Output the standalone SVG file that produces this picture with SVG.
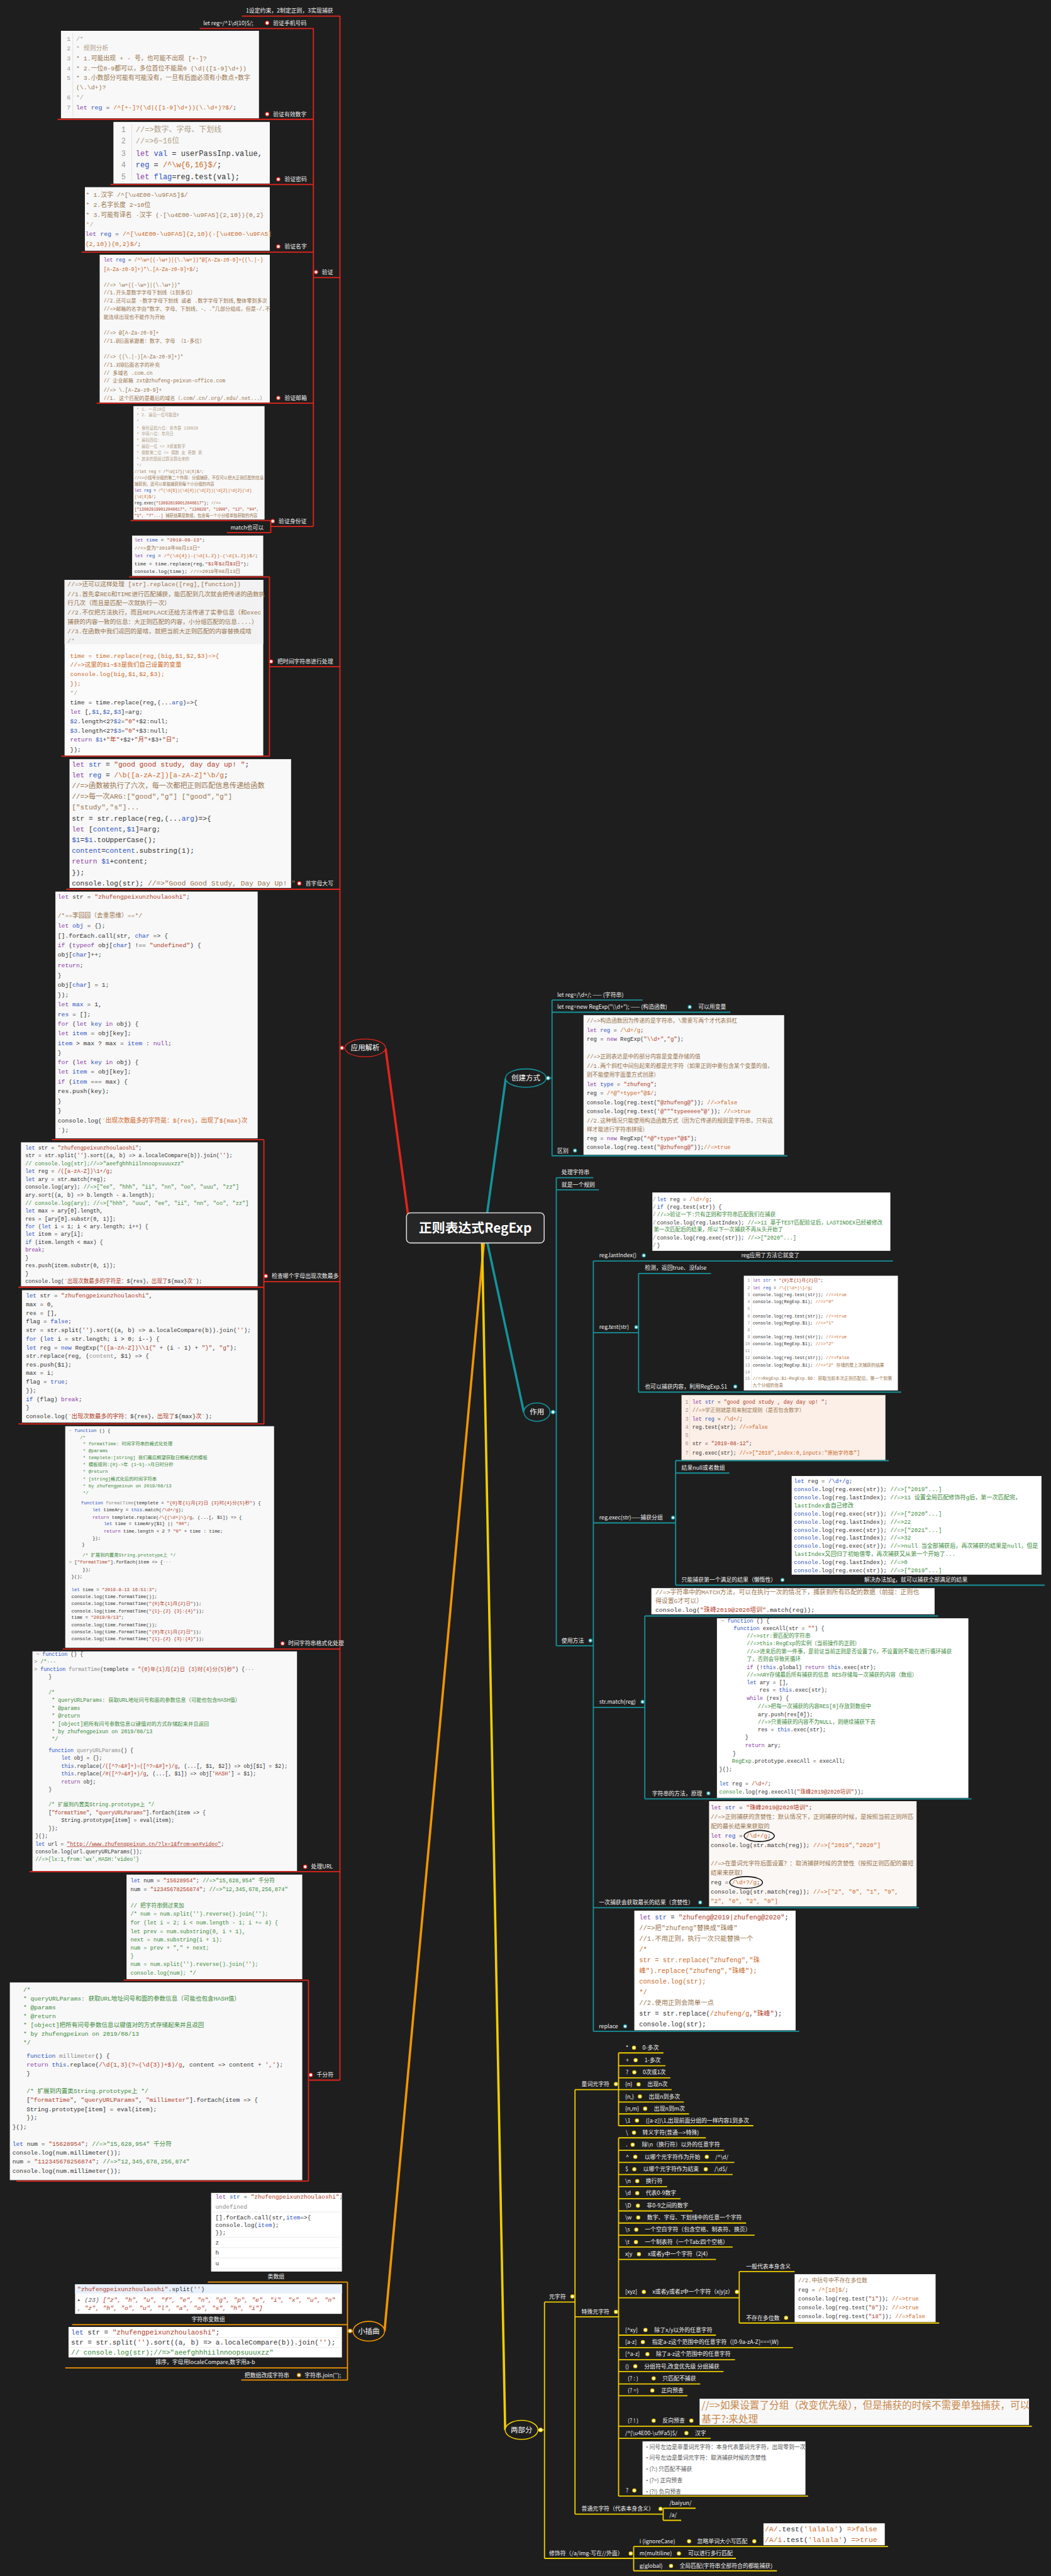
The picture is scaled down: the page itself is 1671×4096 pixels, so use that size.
<svg xmlns="http://www.w3.org/2000/svg" width="1671" height="4096" viewBox="0 0 1671 4096" xml:space="preserve">
<style>
.l{font-family:"Noto Sans CJK SC","Liberation Sans",sans-serif;font-size:17px;fill:#f0f0f0}
.e{font-family:"Noto Sans CJK SC","Liberation Sans",sans-serif;font-size:22px;fill:#fff;text-anchor:middle}
.c{font-family:"Liberation Mono","Noto Sans CJK SC",monospace;fill:#333}
.n{fill:#999}
.cm{fill:#9a7650}
.cl{fill:#b3a089}
.cg{fill:#3d8b3d}
.k{fill:#2f56c4}
.kp{fill:#8a3fa6}
.s{fill:#b0402a}
.so{fill:#cc6a2a}
.f{fill:#8c8c8c}
.box{fill:#f8f8f8}
.lr,.lt,.lo,.ly{fill:none;stroke-width:3.5}
.lr{stroke:#e3241b}.lt{stroke:#14939c}.lo{stroke:#f29600}.ly{stroke:#f0cd00}
.br,.bt,.bo,.by{stroke-width:2.5}
.br{fill:#fff;stroke:#e3241b}.bt{fill:#fff;stroke:#14939c}.bo{fill:#fff;stroke:#f29600}.by{fill:#fffbe0;stroke:#f0cd00}
.sep{stroke:#e6e6e6;stroke-width:1.5}
</style>
<rect width="1671" height="4096" fill="#1e1e1e"/>
<g transform="scale(0.5212)">

<g id="connectors">
<path d="M1250,3745 L1176,3198" stroke="#e3241b" stroke-width="7" fill="none"/>
<path d="M1480,3745 L1543,3289" stroke="#14939c" stroke-width="7" fill="none"/>
<path d="M1480,3760 L1598,4308" stroke="#14939c" stroke-width="7" fill="none"/>
<path d="M1479,3760 L1173,7112" stroke="#f29600" stroke-width="7" fill="none"/>
<path d="M1470,3760 L1541,7413" stroke="#f0cd00" stroke-width="7" fill="none"/>
<path class="lr" d="M1037,49 V6346 M738,49 H1037 M956,847 H1037 M956,87 V1606 M609,87 H956 M176,364 H956 M337,563 H956 M249,769 H956 M295,1230 H956 M826,1606 H956 M826,1588 V1625 M398,1588 H826 M692,1625 H826 M822,2034 H1037 M822,1760 V2307 M394,1760 H822 M187,2307 H822 M202,2713 H1037 M805,3910 H1037 M805,3477 V4344 M159,3477 H805 M56,3927 H805 M56,4344 H805 M191,5031 H1037 M90,5710 H1037 M941,6346 H1037 M941,6041 V6654 M377,6041 H941 M50,6654 H941 M1037,3197 H1052"/>
<path class="lo" d="M1060,6962 V7261 M634,6962 H1060 M220,7092 H1060 M199,7224 H1060 M736,7261 H1060 M1060,7112 H1077"/>
<path class="lt" d="M1684,3051 V3526 M1666,3289 H1684 M1684,3051 H1960 M1684,3088 H2228 M1684,3526 H2402 M1697,3593 V5021 M1677,4308 H1697 M1697,3593 H1810 M1697,3630 H1827 M1697,5021 H1810 M1810,3847 V6197 M1810,3847 H2724 M1810,4066 H1948 M1948,3885 V4247 M1948,3885 H2169 M1948,4247 H2749 M1810,4646 H2061 M2061,4456 V4836 M2061,4456 H2711 M2061,4494 H2225 M2061,4836 H3187 M1810,5209 H1967 M1967,4930 V5488 M1967,4930 H2862 M1967,5488 H2964 M1810,5820 H2803 M1810,6197 H2438"/>
<path class="ly" d="M1661,7023 V7805 M1649,7413 H1661 M1661,7023 H1754 M1661,7805 H1933 M1754,6375 V7670 M1754,6375 H1887 M1754,7068 H1887 M1754,7670 H2023 M1887,6263 V6485 M1887,6522 V7615 M1887,6263 H2024 M1887,6302 H2030 M1887,6339 H2045 M1887,6375 H2049 M1887,6413 H2086 M1887,6449 H2102 M1887,6485 H2298 M1887,6522 H2153 M1887,6560 H2209 M1887,6597 H2240 M1887,6634 H2235 M1887,6671 H2035 M1887,6708 H2076 M1887,6745 H2112 M1887,6782 H2276 M1887,6819 H2302 M1887,6855 H2235 M1887,6893 H2184 M1887,7010 H2255 M2255,6930 V7087 M2255,6930 H2424 M2255,7087 H2865 M1887,7124 H2184 M1887,7162 H2419 M1887,7199 H2242 M1887,7235 H2207 M1887,7273 H2136 M1887,7309 H2097 M1887,7402 H3148 M1887,7439 H2168 M1887,7615 H2465 M2023,7652 V7689 M2023,7652 H2122 M2023,7689 H2078 M1933,7769 V7843 M1933,7769 H2709 M1933,7805 H2245 M1933,7843 H2370"/>
</g>

<g id="center">
<rect x="1240" y="3700" width="420" height="92" rx="12" fill="#262626" stroke="#d8d8d8" stroke-width="3"/>
<text x="1450" y="3760" font-family="Noto Sans CJK SC, Liberation Sans, sans-serif" font-size="40" font-weight="bold" fill="#fff" text-anchor="middle">正则表达式RegExp</text>
</g>

<g id="yingyong">
<ellipse cx="1114" cy="3197" rx="62" ry="27" fill="#1e1e1e" stroke="#e3241b" stroke-width="2.5"/>
<text class="e" x="1114" y="3205">应用解析</text>
<circle class="br" cx="1043" cy="3197" r="5.5"/>
</g>
<g id="red-labels">
<text class="l" x="750" y="39">1设定约束，2制定正则，3实现捕获</text>
<text class="l" x="620" y="76">let reg=/^1\d{10}$/;</text>
<circle class="br" cx="815" cy="70" r="5.5"/><text class="l" x="833" y="76">验证手机号码</text>
<circle class="br" cx="815" cy="348" r="5.5"/><text class="l" x="833" y="354">验证有效数字</text>
<circle class="br" cx="849" cy="547" r="5.5"/><text class="l" x="868" y="553">验证密码</text>
<circle class="br" cx="849" cy="752" r="5.5"/><text class="l" x="868" y="758">验证名字</text>
<circle class="br" cx="964" cy="830" r="5.5"/><text class="l" x="982" y="836">验证</text>
<circle class="br" cx="849" cy="1214" r="5.5"/><text class="l" x="868" y="1220">验证邮箱</text>
<circle class="br" cx="832" cy="1590" r="5.5"/><text class="l" x="850" y="1596">验证身份证</text>
<text class="l" x="703" y="1615">match也可以</text>
<circle class="br" cx="827" cy="2018" r="5.5"/><text class="l" x="846" y="2024">把时间字符串进行处理</text>
<circle class="br" cx="913" cy="2695" r="5.5"/><text class="l" x="932" y="2701">首字母大写</text>
<circle class="br" cx="811" cy="3893" r="5.5"/><text class="l" x="829" y="3899">检查哪个字母出现次数最多</text>
<circle class="br" cx="862" cy="5014" r="5.5"/><text class="l" x="879" y="5020">时间字符串格式化处理</text>
<circle class="br" cx="931" cy="5695" r="5.5"/><text class="l" x="949" y="5701">处理URL</text>
<circle class="br" cx="948" cy="6330" r="5.5"/><text class="l" x="966" y="6336">千分符</text>
</g>

<g id="code-number" font-size="19">
<rect class="box" x="186" y="94" width="604" height="267"/>
<line x1="222" y1="100" x2="222" y2="355" stroke="#ddd" stroke-width="1.5"/>
<text class="c n" x="204" y="124">1</text><text class="c n" x="204" y="154">2</text><text class="c n" x="204" y="184">3</text><text class="c n" x="204" y="214">4</text><text class="c n" x="204" y="243">5</text><text class="c n" x="204" y="303">6</text><text class="c n" x="204" y="333">7</text>
<text class="c cl" x="232" y="124">/*</text>
<text class="c cl" x="232" y="154"> * 规则分析</text>
<text class="c cm" x="232" y="184"> * 1.可能出现 + - 号，也可能不出现  [+-]?</text>
<text class="c cm" x="232" y="214"> * 2.一位0-9都可以，多位首位不能是0 (\d|([1-9]\d+))</text>
<text class="c cm" x="232" y="243"> * 3.小数部分可能有可能没有，一旦有后面必须有小数点+数字</text>
<text class="c cm" x="232" y="273">(\.\d+)?</text>
<text class="c cl" x="232" y="303"> */</text>
<text class="c" x="232" y="333"><tspan class="kp">let</tspan> <tspan class="k">reg</tspan> = <tspan class="so">/^[+-]?(\d|([1-9]\d+))(\.\d+)?$/</tspan>;</text>
</g>

<g id="code-password" font-size="23">
<rect class="box" x="346" y="372" width="477" height="188"/>
<line x1="402" y1="378" x2="402" y2="555" stroke="#ddd" stroke-width="1.5"/>
<text class="c n" x="370" y="402">1</text><text class="c n" x="370" y="438">2</text><text class="c n" x="370" y="475">3</text><text class="c n" x="370" y="511">4</text><text class="c n" x="370" y="547">5</text>
<text class="c cl" x="414" y="402">//=>数字、字母、下划线</text>
<text class="c cl" x="414" y="438">//=>6~16位</text>
<text class="c" x="414" y="475"><tspan class="kp">let</tspan> <tspan class="k">val</tspan> = userPassInp.value,</text>
<text class="c" x="414" y="511">    <tspan class="k">reg</tspan> = <tspan class="so">/^\w{6,16}$/</tspan>;</text>
<text class="c" x="414" y="547"><tspan class="kp">let</tspan> <tspan class="k">flag</tspan>=reg.test(val);</text>
</g>

<g id="code-name" font-size="19">
<rect class="box" x="259" y="571" width="564" height="194"/>
<text class="c cm" x="262" y="601"> * 1.汉字  /^[\u4E00-\u9FA5]$/</text>
<text class="c cm" x="262" y="632"> * 2.名字长度 2~10位</text>
<text class="c cm" x="262" y="661"> * 3.可能有译名 ·汉字  (·[\u4E00-\u9FA5]{2,10}){0,2}</text>
<text class="c cl" x="262" y="690"> */</text>
<text class="c" x="260" y="720"><tspan class="kp">let</tspan> <tspan class="k">reg</tspan> = <tspan class="so">/^[\u4E00-\u9FA5]{2,10}(·[\u4E00-\u9FA5]</tspan></text>
<text class="c so" x="260" y="750">{2,10}){0,2}$/<tspan fill="#333">;</tspan></text>
</g>

<g id="code-email" font-size="15.6">
<rect class="box" x="304" y="777" width="519" height="451"/>
<text class="c" x="316" y="799"><tspan class="kp">let</tspan> <tspan class="k">reg</tspan> = <tspan class="so">/^\w+((-\w+)|(\.\w+))*@[A-Za-z0-9]+((\.|-)</tspan></text>
<text class="c so" x="316" y="826">[A-Za-z0-9]+)*\.[A-Za-z0-9]+$/<tspan fill="#333">;</tspan></text>
<text class="c cm" x="316" y="874">//=> \w+((-\w+)|(\.\w+))*</text>
<text class="c cm" x="316" y="898">//1.开头是数字字母下划线（1到多位）</text>
<text class="c cm" x="316" y="923">//2.还可以是 -数字字母下划线 或者 .数字字母下划线,整体零到多次</text>
<text class="c cm" x="316" y="947">//=>邮箱的名字由“数字、字母、下划线、-、.”几部分组成，但是-/.不</text>
<text class="c cm" x="316" y="972">能连续出现也不能作为开始</text>
<text class="c cm" x="316" y="1021">//=> @[A-Za-z0-9]+</text>
<text class="c cm" x="316" y="1045">//1.@后面紧跟着：数字、字母 （1-多位）</text>
<text class="c cm" x="316" y="1094">//=> ((\.|-)[A-Za-z0-9]+)*</text>
<text class="c cm" x="316" y="1118">//1.对@后面名字的补充</text>
<text class="c cm" x="316" y="1143">// 多域名      .com.cn</text>
<text class="c cm" x="316" y="1167">// 企业邮箱    zxt@zhufeng-peixun-office.com</text>
<text class="c cm" x="316" y="1196">//=> \.[A-Za-z0-9]+</text>
<text class="c cm" x="316" y="1220">//1. 这个匹配的是最后的域名（.com/.cn/.org/.edu/.net...）</text>
</g>

<g id="code-idcard" font-size="12.2">
<rect class="box" x="407" y="1239" width="400" height="346"/>
<text class="c cl" x="417" y="1252">* 1.  一共18位</text>
<text class="c cl" x="417" y="1271">* 2.  最后一位可能是X</text>
<text class="c cl" x="417" y="1290">*</text>
<text class="c cl" x="417" y="1310">* 身份证前六位：省市县   130828</text>
<text class="c cl" x="417" y="1328">* 中间八位：年月日</text>
<text class="c cl" x="417" y="1347">* 最后四位：</text>
<text class="c cl" x="417" y="1366">*    最后一位 => X或者数字</text>
<text class="c cl" x="417" y="1385">*    倒数第二位 => 偶数 女   奇数 男</text>
<text class="c cl" x="417" y="1405">*    其余的是经过算法算出来的</text>
<text class="c cl" x="417" y="1424">*/</text>
<text class="c cm" x="410" y="1443">//let reg = /^\d{17}(\d|X)$/;</text>
<text class="c cm" x="410" y="1462">//=>小括号分组的第二个作用：分组捕获，不仅可以把大正则匹配的信息</text>
<text class="c cm" x="410" y="1481">捕获到，还可以单独捕获到每个小分组的内容</text>
<text class="c" x="410" y="1500"><tspan class="kp">let</tspan> <tspan class="k">reg</tspan> = <tspan class="so">/^(\d{6})(\d{4})(\d{2})(\d{2})\d{2}(\d)</tspan></text>
<text class="c so" x="410" y="1519">(\d|X)$/<tspan fill="#333">;</tspan></text>
<text class="c" x="410" y="1539">reg.exec(<tspan class="s">"130828199012040617"</tspan>); <tspan class="cm">//=></tspan></text>
<text class="c s" x="410" y="1558">["130828199012040617", "130828", "1990", "12", "04",</text>
<text class="c s" x="410" y="1577">"1", "7"...] <tspan class="cm">捕获结果是数组，包含每一个小分组单独获取的内容</tspan></text>
</g>

<g id="code-time" font-size="15">
<rect class="box" x="403" y="1634" width="400" height="123"/>
<text class="c" x="410" y="1652"><tspan class="kp">let</tspan> <tspan class="k">time</tspan> = <tspan class="s">"2019-08-13"</tspan>;</text>
<text class="c cm" x="410" y="1676">//=>变为"2019年08月13日"</text>
<text class="c" x="410" y="1700"><tspan class="kp">let</tspan> <tspan class="k">reg</tspan> = <tspan class="so">/^(\d{4})-(\d{1,2})-(\d{1,2})$/</tspan>;</text>
<text class="c" x="410" y="1724">time = time.replace(reg,<tspan class="s">"$1年$2月$3日"</tspan>);</text>
<text class="c" x="410" y="1748">console.log(time); <tspan class="cm">//=>2019年08月13日</tspan></text>
</g>

<g id="code-replace-fn" font-size="18.5">
<rect x="197" y="1769" width="606" height="536" fill="#fbfbfb"/>
<rect x="197" y="1769" width="606" height="196" fill="#f2f2f2"/>
<text class="c cm" x="206" y="1789">//=>还可以这样处理 [str].replace([reg],[function])</text>
<text class="c cm" x="206" y="1818">//1.首先拿REG和TIME进行匹配捕获，能匹配到几次就会把传递的函数执</text>
<text class="c cm" x="206" y="1846">行几次（而且是匹配一次就执行一次）</text>
<text class="c cm" x="206" y="1874">//2.不仅把方法执行，而且REPLACE还给方法传递了实参信息（和exec</text>
<text class="c cm" x="206" y="1903">捕获的内容一致的信息：大正则匹配的内容，小分组匹配的信息....）</text>
<text class="c cm" x="206" y="1932">//3.在函数中我们返回的是啥，就把当前大正则匹配的内容替换成啥</text>
<text class="c cl" x="206" y="1960">/*</text>
<text class="c so" x="214" y="2006">time = time.replace(reg,(big,$1,$2,$3)=>{</text>
<text class="c so" x="214" y="2034">    //=>这里的$1~$3是我们自己设置的变量</text>
<text class="c so" x="214" y="2063">    console.log(big,$1,$2,$3);</text>
<text class="c so" x="214" y="2092">});</text>
<text class="c cl" x="214" y="2120">*/</text>
<text class="c" x="214" y="2149">time = time.replace(reg,(...<tspan class="k">arg</tspan>)=>{</text>
<text class="c" x="214" y="2177">    <tspan class="kp">let</tspan> [,<tspan class="k">$1</tspan>,<tspan class="k">$2</tspan>,<tspan class="k">$3</tspan>]=arg;</text>
<text class="c" x="214" y="2206">    <tspan class="k">$2</tspan>.length&lt;2?<tspan class="k">$2</tspan>=<tspan class="s">"0"</tspan>+$2:null;</text>
<text class="c" x="214" y="2235">    <tspan class="k">$3</tspan>.length&lt;2?<tspan class="k">$3</tspan>=<tspan class="s">"0"</tspan>+$3:null;</text>
<text class="c" x="214" y="2263">    <tspan class="kp">return</tspan> <tspan class="k">$1</tspan>+<tspan class="s">"年"</tspan>+$2+<tspan class="s">"月"</tspan>+$3+<tspan class="s">"日"</tspan>;</text>
<text class="c" x="214" y="2292">});</text>
</g>

<g id="code-capitalize" font-size="21.5">
<rect class="box" x="212" y="2316" width="676" height="393"/>
<text class="c" x="219" y="2338"><tspan class="kp">let</tspan> <tspan class="k">str</tspan> = <tspan class="s">"good good study, day day up! "</tspan>;</text>
<text class="c" x="219" y="2371"><tspan class="kp">let</tspan> <tspan class="k">reg</tspan> = <tspan class="so">/\b([a-zA-Z])[a-zA-Z]*\b/g</tspan>;</text>
<text class="c cm" x="219" y="2404">//=>函数被执行了六次，每一次都把正则匹配信息传递给函数</text>
<text class="c cm" x="219" y="2437">//=>每一次ARG:["good","g"] ["good","g"]</text>
<text class="c cm" x="219" y="2470">["study","s"]...</text>
<text class="c" x="219" y="2503">str = str.replace(reg,(...<tspan class="k">arg</tspan>)=>{</text>
<text class="c" x="219" y="2536">    <tspan class="kp">let</tspan> [<tspan class="k">content</tspan>,<tspan class="k">$1</tspan>]=arg;</text>
<text class="c" x="219" y="2569">    <tspan class="k">$1</tspan>=<tspan class="k">$1</tspan>.toUpperCase();</text>
<text class="c" x="219" y="2602">    <tspan class="k">content</tspan>=<tspan class="k">content</tspan>.substring(1);</text>
<text class="c" x="219" y="2635">    <tspan class="kp">return</tspan> <tspan class="k">$1</tspan>+content;</text>
<text class="c" x="219" y="2668">});</text>
<text class="c" x="219" y="2701">console.log(str); <tspan class="cm">//=>"Good Good Study, Day Day Up! "</tspan></text>
</g>

<g id="code-maxchar-1" font-size="18.7">
<rect class="box" x="169" y="2720" width="617" height="753"/>
<text class="c" x="176" y="2742"><tspan class="kp">let</tspan> str = <tspan class="s">"zhufengpeixunzhoulaoshi"</tspan>;</text>
<text class="c cm" x="176" y="2800">/*==李园园（去重思维）==*/</text>
<text class="c" x="176" y="2830"><tspan class="kp">let</tspan> <tspan class="k">obj</tspan> = {};</text>
<text class="c" x="176" y="2860">[].forEach.call(str, <tspan class="k">char</tspan> => {</text>
<text class="c" x="176" y="2889">    <tspan class="kp">if</tspan> (<tspan class="kp">typeof</tspan> obj[<tspan class="k">char</tspan>] !== <tspan class="s">"undefined"</tspan>) {</text>
<text class="c" x="176" y="2919">        obj[<tspan class="k">char</tspan>]++;</text>
<text class="c" x="176" y="2951">        <tspan class="kp">return</tspan>;</text>
<text class="c" x="176" y="2981">    }</text>
<text class="c" x="176" y="3011">    obj[<tspan class="k">char</tspan>] = 1;</text>
<text class="c" x="176" y="3041">});</text>
<text class="c" x="176" y="3070"><tspan class="kp">let</tspan> <tspan class="k">max</tspan> = 1,</text>
<text class="c" x="176" y="3100">    <tspan class="k">res</tspan> = [];</text>
<text class="c" x="176" y="3130"><tspan class="kp">for</tspan> (<tspan class="kp">let</tspan> <tspan class="k">key</tspan> <tspan class="kp">in</tspan> obj) {</text>
<text class="c" x="176" y="3159">    <tspan class="kp">let</tspan> <tspan class="k">item</tspan> = obj[key];</text>
<text class="c" x="176" y="3188">    <tspan class="k">item</tspan> > max ? max = <tspan class="k">item</tspan> : <tspan class="kp">null</tspan>;</text>
<text class="c" x="176" y="3217">}</text>
<text class="c" x="176" y="3247"><tspan class="kp">for</tspan> (<tspan class="kp">let</tspan> <tspan class="k">key</tspan> <tspan class="kp">in</tspan> obj) {</text>
<text class="c" x="176" y="3276">    <tspan class="kp">let</tspan> <tspan class="k">item</tspan> = obj[key];</text>
<text class="c" x="176" y="3306">    <tspan class="kp">if</tspan> (<tspan class="k">item</tspan> === max) {</text>
<text class="c" x="176" y="3335">        res.push(key);</text>
<text class="c" x="176" y="3365">    }</text>
<text class="c" x="176" y="3395">}</text>
<text class="c" x="176" y="3424">console.log(`<tspan class="so">出现次数最多的字符是：${res}，出现了${max}次</tspan></text>
<text class="c" x="176" y="3454">`);</text>
</g>

<g id="code-maxchar-2" font-size="16.5">
<rect class="box" x="64" y="3485" width="722" height="439"/>
<text class="c" x="77" y="3507"><tspan class="k">let</tspan> str = <tspan class="s">"zhufengpeixunzhoulaoshi"</tspan>;</text>
<text class="c" x="77" y="3531">str = str.split(<tspan class="s">''</tspan>).sort((a, b) => a.localeCompare(b)).join(<tspan class="s">''</tspan>);</text>
<text class="c cg" x="77" y="3555">// console.log(str);//=>"aeefghhhiilnnoopsuuuxzz"</text>
<text class="c" x="77" y="3579"><tspan class="k">let</tspan> reg = <tspan class="s">/([a-zA-Z])\1+/g</tspan>;</text>
<text class="c" x="77" y="3603"><tspan class="k">let</tspan> ary = str.match(reg);</text>
<text class="c" x="77" y="3627">console.log(ary); <tspan class="cg">//=>["ee", "hhh", "ii", "nn", "oo", "uuu", "zz"]</tspan></text>
<text class="c" x="77" y="3651">ary.sort((a, b) => b.length - a.length);</text>
<text class="c cg" x="77" y="3676">// console.log(ary); //=>["hhh", "uuu", "ee", "ii", "nn", "oo", "zz"]</text>
<text class="c" x="77" y="3700"><tspan class="k">let</tspan> max = ary[0].length,</text>
<text class="c" x="77" y="3724">    res = [ary[0].substr(0, 1)];</text>
<text class="c" x="77" y="3748"><tspan class="k">for</tspan> (<tspan class="k">let</tspan> i = 1; i &lt; ary.length; i++) {</text>
<text class="c" x="77" y="3771">    <tspan class="k">let</tspan> item = ary[i];</text>
<text class="c" x="77" y="3795">    <tspan class="k">if</tspan> (item.length &lt; max) {</text>
<text class="c" x="77" y="3819">        <tspan class="kp">break</tspan>;</text>
<text class="c" x="77" y="3843">    }</text>
<text class="c" x="77" y="3867">    res.push(item.substr(0, 1));</text>
<text class="c" x="77" y="3891">}</text>
<text class="c" x="77" y="3915">console.log(`<tspan class="s">出现次数最多的字符是：</tspan>${res}<tspan class="s">，出现了</tspan>${max}<tspan class="s">次</tspan>`);</text>
</g>

<g id="code-maxchar-3" font-size="17.9">
<rect class="box" x="67" y="3936" width="719" height="404"/>
<text class="c" x="79" y="3958"><tspan class="k">let</tspan> str = <tspan class="s">"zhufengpeixunzhoulaoshi"</tspan>,</text>
<text class="c" x="79" y="3985">    max = 0,</text>
<text class="c" x="79" y="4011">    res = [],</text>
<text class="c" x="79" y="4037">    flag = <tspan class="k">false</tspan>;</text>
<text class="c" x="79" y="4064">str = str.split(<tspan class="s">''</tspan>).sort((a, b) => a.localeCompare(b)).join(<tspan class="s">''</tspan>);</text>
<text class="c" x="79" y="4090"><tspan class="k">for</tspan> (<tspan class="k">let</tspan> i = str.length; i > 0; i--) {</text>
<text class="c" x="79" y="4117">    <tspan class="k">let</tspan> reg = <tspan class="k">new</tspan> RegExp(<tspan class="s">"([a-zA-Z])\\1{"</tspan> + (i - 1) + <tspan class="s">"}"</tspan>, <tspan class="s">"g"</tspan>);</text>
<text class="c" x="79" y="4143">    str.replace(reg, (<tspan class="f">content</tspan>, $1) => {</text>
<text class="c" x="79" y="4169">        res.push($1);</text>
<text class="c" x="79" y="4195">        max = i;</text>
<text class="c" x="79" y="4221">        flag = <tspan class="k">true</tspan>;</text>
<text class="c" x="79" y="4248">    });</text>
<text class="c" x="79" y="4274">    <tspan class="k">if</tspan> (flag) <tspan class="kp">break</tspan>;</text>
<text class="c" x="79" y="4300">}</text>
<text class="c" x="79" y="4326">console.log(`<tspan class="s">出现次数最多的字符：</tspan>${res}<tspan class="s">，出现了</tspan>${max}<tspan class="s">次</tspan>`);</text>
</g>

<g id="code-formattime" font-size="14.1">
<rect class="box" x="199" y="4351" width="637" height="676"/>
<text class="c" x="210" y="4368"><tspan class="f">~</tspan> <tspan class="k">function</tspan> () {</text>
<text class="c cg" x="244" y="4389">/*</text>
<text class="c cg" x="253" y="4410">* formatTime: 时间字符串的格式化处理</text>
<text class="c cg" x="253" y="4431">*   @params</text>
<text class="c cg" x="253" y="4452">*     templete:[string] 我们最后期望获取日期格式的模板</text>
<text class="c cg" x="253" y="4473">*     模板规则:{0}->年   {1~5}->月日时分秒</text>
<text class="c cg" x="253" y="4494">*   @return</text>
<text class="c cg" x="253" y="4516">*     [string]格式化后的时间字符串</text>
<text class="c cg" x="253" y="4537">*  by zhufengpeixun on 2019/08/13</text>
<text class="c cg" x="253" y="4558">*/</text>
<text class="c" x="247" y="4590"><tspan class="k">function</tspan> <tspan class="f">formatTime</tspan>(templete = <tspan class="s">"{0}年{1}月{2}日 {3}时{4}分{5}秒"</tspan>) {</text>
<text class="c" x="282" y="4611"><tspan class="k">let</tspan> timeAry = <tspan class="k">this</tspan>.match(<tspan class="s">/\d+/g</tspan>);</text>
<text class="c" x="282" y="4633"><tspan class="kp">return</tspan> templete.replace(<tspan class="s">/\{(\d+)\}/g</tspan>, (...[, $1]) => {</text>
<text class="c" x="317" y="4653"><tspan class="k">let</tspan> time = timeAry[$1] || <tspan class="s">"00"</tspan>;</text>
<text class="c" x="317" y="4675"><tspan class="kp">return</tspan> time.length &lt; 2 ? <tspan class="s">"0"</tspan> + time : time;</text>
<text class="c" x="282" y="4696">});</text>
<text class="c" x="250" y="4716">}</text>
<text class="c cg" x="252" y="4749">/* 扩展到内置类String.prototype上 */</text>
<text class="c" x="210" y="4770"><tspan class="f">></tspan>   [<tspan class="s">"formatTime"</tspan>].forEach(item => {<tspan class="f">···</tspan></text>
<text class="c" x="252" y="4792">});</text>
<text class="c" x="218" y="4813">}();</text>
<text class="c" x="218" y="4854"><tspan class="k">let</tspan> time = <tspan class="s">"2019-8-13 16:51:3"</tspan>;</text>
<text class="c" x="218" y="4876">console.log(time.formatTime());</text>
<text class="c" x="218" y="4897">console.log(time.formatTime(<tspan class="s">"{0}年{1}月{2}日"</tspan>));</text>
<text class="c" x="218" y="4919">console.log(time.formatTime(<tspan class="s">"{1}-{2} {3}:{4}"</tspan>));</text>
<text class="c" x="218" y="4939">time = <tspan class="s">"2019/8/13"</tspan>;</text>
<text class="c" x="218" y="4961">console.log(time.formatTime());</text>
<text class="c" x="218" y="4982">console.log(time.formatTime(<tspan class="s">"{0}年{1}月{2}日"</tspan>));</text>
<text class="c" x="218" y="5003">console.log(time.formatTime(<tspan class="s">"{1}-{2} {3}:{4}"</tspan>));</text>
</g>

<g id="code-queryurl" font-size="16">
<rect class="box" x="99" y="5038" width="807" height="670"/>
<text class="c" x="110" y="5051"><tspan class="f">~</tspan> <tspan class="k">function</tspan> () {</text>
<text class="c" x="104" y="5075"><tspan class="f">></tspan>    <tspan class="cg">/*···</tspan></text>
<text class="c" x="104" y="5098"><tspan class="f">></tspan>    <tspan class="k">function</tspan> <tspan class="f">formatTime</tspan>(templete = <tspan class="s">"{0}年{1}月{2}日 {3}时{4}分{5}秒"</tspan>) {<tspan class="f">···</tspan></text>
<text class="c" x="148" y="5121">}</text>
<text class="c cg" x="148" y="5169">/*</text>
<text class="c cg" x="158" y="5192">* queryURLParams: 获取URL地址问号和面的参数信息（可能也包含HASH值）</text>
<text class="c cg" x="158" y="5217">*   @params</text>
<text class="c cg" x="158" y="5240">*   @return</text>
<text class="c cg" x="158" y="5264">*     [object]把所有问号参数信息以键值对的方式存储起来并且返回</text>
<text class="c cg" x="158" y="5288">* by zhufengpeixun on 2019/08/13</text>
<text class="c cg" x="158" y="5311">*/</text>
<text class="c" x="148" y="5345"><tspan class="k">function</tspan> <tspan class="f">queryURLParams</tspan>() {</text>
<text class="c" x="187" y="5369"><tspan class="k">let</tspan> obj = {};</text>
<text class="c" x="187" y="5393"><tspan class="k">this</tspan>.replace(<tspan class="s">/([^?=&amp;#]+)=([^?=&amp;#]+)/g</tspan>, (...[, $1, $2]) => obj[$1] = $2);</text>
<text class="c" x="187" y="5417"><tspan class="k">this</tspan>.replace(<tspan class="s">/#([^?=&amp;#]+)/g</tspan>, (...[, $1]) => obj[<tspan class="s">'HASH'</tspan>] = $1);</text>
<text class="c" x="187" y="5441"><tspan class="kp">return</tspan> obj;</text>
<text class="c" x="148" y="5465">}</text>
<text class="c cg" x="148" y="5511">/* 扩展到内置类String.prototype上 */</text>
<text class="c" x="148" y="5535">[<tspan class="s">"formatTime"</tspan>, <tspan class="s">"queryURLParams"</tspan>].forEach(item => {</text>
<text class="c" x="187" y="5559">String.prototype[item] = eval(item);</text>
<text class="c" x="148" y="5583">});</text>
<text class="c" x="108" y="5607">}();</text>
<text class="c" x="108" y="5631"><tspan class="k">let</tspan> url = <tspan class="s" text-decoration="underline">"http://www.zhufengpeixun.cn/?lx=1&amp;from=wx#video"</tspan>;</text>
<text class="c" x="108" y="5655">console.log(url.queryURLParams());</text>
<text class="c cg" x="108" y="5678">//=>{lx:1,from:'wx',HASH:'video'}</text>
</g>

<g id="code-thousands-1" font-size="16.7">
<rect class="box" x="386" y="5719" width="536" height="319"/>
<text class="c" x="398" y="5743"><tspan class="k">let</tspan> num = <tspan class="s">"15628954"</tspan>; <tspan class="cg">//=>"15,628,954" 千分符</tspan></text>
<text class="c" x="398" y="5769">num = <tspan class="s">"12345678256874"</tspan>; <tspan class="cg">//=>"12,345,678,256,874"</tspan></text>
<text class="c cg" x="398" y="5819">// 把字符串倒过来加</text>
<text class="c cg" x="398" y="5845">/* num = num.split('').reverse().join('');</text>
<text class="c cg" x="398" y="5871">for (let i = 2; i &lt; num.length - 1; i += 4) {</text>
<text class="c cg" x="398" y="5897">    let prev = num.substring(0, i + 1),</text>
<text class="c cg" x="398" y="5922">        next = num.substring(i + 1);</text>
<text class="c cg" x="398" y="5948">    num = prev + "," + next;</text>
<text class="c cg" x="398" y="5973">}</text>
<text class="c cg" x="398" y="5998">num = num.split('').reverse().join('');</text>
<text class="c cg" x="398" y="6024">console.log(num); */</text>
</g>

<g id="code-thousands-2" font-size="18.4">
<rect class="box" x="30" y="6048" width="892" height="603"/>
<text class="c cg" x="71" y="6076">/*</text>
<text class="c cg" x="71" y="6103"> * queryURLParams: 获取URL地址问号和面的参数信息（可能也包含HASH值）</text>
<text class="c cg" x="71" y="6131"> *   @params</text>
<text class="c cg" x="71" y="6157"> *   @return</text>
<text class="c cg" x="71" y="6184"> *     [object]把所有问号参数信息以键值对的方式存储起来并且返回</text>
<text class="c cg" x="71" y="6211"> * by zhufengpeixun on 2019/08/13</text>
<text class="c cg" x="71" y="6237"> */</text>
<text class="c" x="81" y="6277"><tspan class="k">function</tspan> <tspan class="f">millimeter</tspan>() {</text>
<text class="c" x="81" y="6305">    <tspan class="kp">return</tspan> <tspan class="k">this</tspan>.replace(<tspan class="s">/\d{1,3}(?=(\d{3})+$)/g</tspan>, content => content + <tspan class="s">','</tspan>);</text>
<text class="c" x="81" y="6332">}</text>
<text class="c cg" x="81" y="6386">/* 扩展到内置类String.prototype上 */</text>
<text class="c" x="81" y="6412">[<tspan class="s">"formatTime"</tspan>, <tspan class="s">"queryURLParams"</tspan>, <tspan class="s">"millimeter"</tspan>].forEach(item => {</text>
<text class="c" x="81" y="6440">    String.prototype[item] = eval(item);</text>
<text class="c" x="81" y="6466">});</text>
<text class="c" x="38" y="6494">}();</text>
<text class="c" x="38" y="6547"><tspan class="k">let</tspan> num = <tspan class="s">"15628954"</tspan>; <tspan class="cg">//=>"15,628,954" 千分符</tspan></text>
<text class="c" x="38" y="6574">console.log(num.millimeter());</text>
<text class="c" x="38" y="6601">num = <tspan class="s">"112345678256874"</tspan>; <tspan class="cg">//=>"12,345,678,256,874"</tspan></text>
<text class="c" x="38" y="6628">console.log(num.millimeter());</text>
</g>

<g id="xiaochaqu">
<ellipse cx="1125" cy="7112" rx="48" ry="30" fill="#1e1e1e" stroke="#f29600" stroke-width="3"/>
<text class="e" x="1125" y="7120" font-size="21">小插曲</text>
<circle class="bo" cx="1068" cy="7111" r="5.5"/>
</g>
<g id="orange-labels">
<text class="l" x="842" y="6952" text-anchor="middle">类数组</text>
<text class="l" x="635" y="7082" text-anchor="middle">字符串变数组</text>
<text class="l" x="626" y="7213" text-anchor="middle">排序，字母用localeCompare,数字用a-b</text>
<text class="l" x="746" y="7252">把数组改成字符串</text>
<circle class="bo" cx="912" cy="7246" r="5"/>
<text class="l" x="929" y="7252">字符串.join('');</text>
</g>
<g id="code-arraylike" font-size="18">
<rect x="644" y="6690" width="399" height="240" fill="#fff"/>
<line class="sep" x1="644" y1="6748" x2="1043" y2="6748"/><line class="sep" x1="644" y1="6825" x2="1043" y2="6825"/><line class="sep" x1="644" y1="6857" x2="1043" y2="6857"/><line class="sep" x1="644" y1="6888" x2="1043" y2="6888"/><line class="sep" x1="644" y1="6920" x2="1043" y2="6920"/>
<text class="c" x="657" y="6708"><tspan class="kp">let</tspan> <tspan class="k">str</tspan> = <tspan class="s">"zhufengpeixunzhoulaoshi"</tspan>;</text>
<text class="c f" x="657" y="6739">undefined</text>
<text class="c" x="657" y="6771">[].forEach.call(str,<tspan class="k">item</tspan>=>{</text>
<text class="c" x="657" y="6793">    console.log(<tspan class="k">item</tspan>);</text>
<text class="c" x="657" y="6817">});</text>
<text class="c" x="657" y="6848">z</text>
<text class="c" x="657" y="6879">h</text>
<text class="c" x="657" y="6911">u</text>
</g>
<g id="code-split" font-size="18.5">
<rect x="229" y="6969" width="814" height="90" fill="#fff"/>
<rect x="229" y="6969" width="814" height="28" fill="#e8f0fb"/>
<text class="c" x="236" y="6989"><tspan class="s">"zhufengpeixunzhoulaoshi"</tspan>.split(<tspan class="s">''</tspan>)</text>
<text class="c s" x="236" y="7022" font-style="italic"><tspan fill="#555">▸ (23)</tspan> ["z", "h", "u", "f", "e", "n", "g", "p", "e", "i", "x", "u", "n"</text>
<text class="c s" x="236" y="7047" font-style="italic"><tspan fill="#555">,</tspan> "z", "h", "o", "u", "l", "a", "o", "s", "h", "i"]</text>
</g>
<g id="code-sort" font-size="21">
<rect x="209" y="7099" width="834" height="93" fill="#fff"/>
<line class="sep" x1="209" y1="7131" x2="1043" y2="7131"/><line class="sep" x1="209" y1="7162" x2="1043" y2="7162"/>
<text class="c" x="217" y="7122"><tspan class="k">let</tspan> str = <tspan class="s">"zhufengpeixunzhoulaoshi"</tspan>;</text>
<text class="c" x="217" y="7152">str = str.split(<tspan class="s">''</tspan>).sort((a, b) => a.localeCompare(b)).join(<tspan class="s">''</tspan>);</text>
<text class="c cg" x="217" y="7183">// console.log(str);//=>"aeefghhhiilnnoopsuuuxzz"</text>
</g>

<g id="chuangjian">
<ellipse cx="1604" cy="3289" rx="62" ry="28" fill="#1e1e1e" stroke="#14939c" stroke-width="3"/>
<text class="e" x="1604" y="3297">创建方式</text>
<circle class="bt" cx="1672" cy="3289" r="5.5"/>
</g>
<g id="teal-labels-1">
<text class="l" x="1700" y="3041">let reg=/\d+/; —— (字符串)</text>
<text class="l" x="1700" y="3078">let reg=new RegExp("\\d+"); —— (构造函数)</text>
<circle class="bt" cx="2104" cy="3072" r="5"/><text class="l" x="2130" y="3078">可以用变量</text>
<text class="l" x="1700" y="3516">区别</text><circle class="bt" cx="1754" cy="3510" r="5"/>
</g>
<g id="code-diff" font-size="17">
<rect class="box" x="1780" y="3097" width="612" height="426"/>
<text class="c cm" x="1790" y="3120">//=>构造函数因为传递的是字符串，\需要写两个才代表斜杠</text>
<text class="c" x="1790" y="3148"><tspan class="kp">let</tspan> <tspan class="k">reg</tspan> = <tspan class="so">/\d+/g</tspan>;</text>
<text class="c" x="1790" y="3176">reg = <tspan class="kp">new</tspan> RegExp(<tspan class="s">"\\d+"</tspan>,<tspan class="s">"g"</tspan>);</text>
<text class="c cm" x="1790" y="3230">//=>正则表达是中的部分内容是变量存储的值</text>
<text class="c cm" x="1790" y="3258">//1.两个斜杠中间包起来的都是元字符（如果正则中要包含某个变量的值，</text>
<text class="c cm" x="1790" y="3285">则不能使用字面量方式创建）</text>
<text class="c" x="1790" y="3313"><tspan class="kp">let</tspan> <tspan class="k">type</tspan> = <tspan class="s">"zhufeng"</tspan>;</text>
<text class="c" x="1790" y="3341">reg = <tspan class="so">/^@"+type+"@$/</tspan>;</text>
<text class="c" x="1790" y="3369">console.log(reg.test(<tspan class="s">"@zhufeng@"</tspan>)); <tspan class="so">//=>false</tspan></text>
<text class="c" x="1790" y="3396">console.log(reg.test(<tspan class="s">'@"""typeeeee"@'</tspan>)); <tspan class="so">//=>true</tspan></text>
<text class="c cm" x="1790" y="3424">//2.这种情况只能使用构造函数方式（因为它传递的规则是字符串，只有这</text>
<text class="c cm" x="1790" y="3451">样才能进行字符串拼接）</text>
<text class="c" x="1790" y="3478">reg = <tspan class="kp">new</tspan> RegExp(<tspan class="s">"^@"+type+"@$"</tspan>);</text>
<text class="c" x="1790" y="3506">console.log(reg.test(<tspan class="s">"@zhufeng@"</tspan>));<tspan class="so">//=>true</tspan></text>
</g>

<g id="zuoyong">
<ellipse cx="1638" cy="4308" rx="40" ry="28" fill="#1e1e1e" stroke="#14939c" stroke-width="3"/>
<text class="e" x="1638" y="4316">作用</text>
<circle class="bt" cx="1687" cy="4308" r="5.5"/>
</g>
<g id="teal-labels-2">
<text class="l" x="1713" y="3583">处理字符串</text>
<text class="l" x="1713" y="3620">就是一个规则</text>
<text class="l" x="1713" y="5011">使用方法</text><circle class="bt" cx="1801" cy="5005" r="5"/>
<text class="l" x="1828" y="3836">reg.lastIndex()</text><circle class="bt" cx="1964" cy="3830" r="5"/>
<text class="l" x="2261" y="3836">reg应用了方法它就变了</text>
<text class="l" x="1828" y="4055">reg.test(str)</text><circle class="bt" cx="1941" cy="4049" r="5"/>
<text class="l" x="1967" y="3874">检测，返回true、没false</text>
<text class="l" x="1967" y="4236">也可以捕获内容，利用RegExp.$1</text><circle class="bt" cx="2243" cy="4230" r="5"/>
<text class="l" x="1828" y="4636">reg.exec(str)——捕获分组</text><circle class="bt" cx="2053" cy="4630" r="5"/>
<text class="l" x="2079" y="4483">结果null或者数组</text>
<text class="l" x="2079" y="4826">只能捕获第一个满足的结果（懒惰性）</text><circle class="bt" cx="2387" cy="4820" r="5"/>
<text class="l" x="2636" y="4826">解决办法加g，就可以捕获全部满足的结果</text>
<text class="l" x="1828" y="5198">str.match(reg)</text><circle class="bt" cx="1960" cy="5192" r="5"/>
<text class="l" x="1989" y="5477">字符串的方法，原理</text><circle class="bt" cx="2161" cy="5471" r="5"/>
<text class="l" x="1827" y="5810">一次捕获会获取最长的结果（贪婪性）</text><circle class="bt" cx="2136" cy="5804" r="5"/>
<text class="l" x="1827" y="6188">replace</text><circle class="bt" cx="1907" cy="6182" r="5"/>
</g>

<g id="code-lastindex" font-size="16.5">
<rect x="1990" y="3638" width="726" height="178" fill="#fff"/>
<text class="c f" x="1991" y="3665">/</text><text class="c f" x="1991" y="3688">/</text><text class="c f" x="1991" y="3711">/</text><text class="c f" x="1991" y="3735">/</text><text class="c f" x="1991" y="3781">/</text><text class="c f" x="1991" y="3805">/</text>
<text class="c" x="2004" y="3665"><tspan class="k">let</tspan> reg = <tspan class="so">/\d+/g</tspan>;</text>
<text class="c" x="2004" y="3688"><tspan class="k">if</tspan> (reg.test(str)) {</text>
<text class="c" x="2004" y="3711">  <tspan class="cg">//=>验证一下:只有正则和字符串匹配我们在捕获</tspan></text>
<text class="c" x="2004" y="3735">  console.log(reg.lastIndex); <tspan class="cg">//=>11 基于TEST匹配验证后，LASTINDEX已经被修改</tspan></text>
<text class="c cg" x="1994" y="3757">第一次匹配后的结果，所以下一次捕获不再从头开始了</text>
<text class="c" x="2004" y="3781">  console.log(reg.exec(str)); <tspan class="cg">//=>["2020"...]</tspan></text>
<text class="c" x="2004" y="3805">}</text>
</g>

<g id="code-regexp1" font-size="13.3">
<rect x="2269" y="3892" width="470" height="350" fill="#fff"/>
<line x1="2292" y1="3896" x2="2292" y2="4238" stroke="#e3e3e3" stroke-width="1.5"/>
<g class="c n" text-anchor="end">
<text x="2288" y="3911">1</text><text x="2288" y="3933">2</text><text x="2288" y="3954">3</text><text x="2288" y="3976">4</text><text x="2288" y="3997">5</text><text x="2288" y="4019">6</text><text x="2288" y="4040">7</text><text x="2288" y="4061">8</text><text x="2288" y="4083">9</text><text x="2288" y="4104">10</text><text x="2288" y="4126">11</text><text x="2288" y="4147">12</text><text x="2288" y="4169">13</text><text x="2288" y="4190">14</text><text x="2288" y="4210">15</text>
</g>
<text class="c" x="2296" y="3911"><tspan class="kp">let</tspan> <tspan class="k">str</tspan> = <tspan class="s">"{0}年{1}月{2}日"</tspan>;</text>
<text class="c" x="2296" y="3933"><tspan class="kp">let</tspan> <tspan class="k">reg</tspan> = <tspan class="so">/\{(\d+)\}/g</tspan>;</text>
<text class="c" x="2296" y="3954">console.log(reg.test(str)); <tspan class="so">//=>true</tspan></text>
<text class="c" x="2296" y="3976">console.log(RegExp.$1); <tspan class="so">//=>"0"</tspan></text>
<text class="c" x="2296" y="4019">console.log(reg.test(str)); <tspan class="so">//=>true</tspan></text>
<text class="c" x="2296" y="4040">console.log(RegExp.$1); <tspan class="so">//=>"1"</tspan></text>
<text class="c" x="2296" y="4083">console.log(reg.test(str)); <tspan class="so">//=>true</tspan></text>
<text class="c" x="2296" y="4104">console.log(RegExp.$1); <tspan class="so">//=>"2"</tspan></text>
<text class="c" x="2296" y="4147">console.log(reg.test(str)); <tspan class="so">//=>false</tspan></text>
<text class="c" x="2296" y="4169">console.log(RegExp.$1); <tspan class="so">//=>"2" </tspan><tspan class="cm">存储的是上次捕获的结果</tspan></text>
<text class="c cm" x="2296" y="4210">//=>RegExp.$1~RegExp.$9: 获取当前本次正则匹配后，第一个到第</text>
<text class="c cm" x="2296" y="4231">九个分组的信息</text>
</g>

<g id="code-test-exec" font-size="16">
<rect x="2079" y="4256" width="622" height="198" fill="#fcefe7"/>
<line x1="2104" y1="4260" x2="2104" y2="4450" stroke="#ead9cf" stroke-width="1.5"/>
<g class="c n" text-anchor="end"><text x="2100" y="4282">1</text><text x="2100" y="4308">2</text><text x="2100" y="4334">3</text><text x="2100" y="4360">4</text><text x="2100" y="4385">5</text><text x="2100" y="4410">6</text><text x="2100" y="4437">7</text></g>
<text class="c" x="2112" y="4282"><tspan class="kp">let</tspan> <tspan class="k">str</tspan> = <tspan class="s">"good good study , day day up! "</tspan>;</text>
<text class="c cm" x="2112" y="4308">//=>学正则就是用来制定规则（是否包含数字）</text>
<text class="c" x="2112" y="4334"><tspan class="kp">let</tspan> <tspan class="k">reg</tspan> = <tspan class="so">/\d+/</tspan>;</text>
<text class="c" x="2112" y="4360">reg.test(str); <tspan class="so">//=>false</tspan></text>
<text class="c" x="2112" y="4410">str = <tspan class="s">"2019-08-12"</tspan>;</text>
<text class="c" x="2112" y="4437">reg.exec(str); <tspan class="so">//=>["2019",index:0,inputs:"原始字符串"]</tspan></text>
</g>

<g id="code-exec-g" font-size="17.5">
<rect x="2415" y="4503" width="762" height="301" fill="#fff"/>
<text class="c" x="2422" y="4525"><tspan class="k">let</tspan> reg = <tspan class="k">/\d+/g</tspan>;</text>
<text class="c" x="2422" y="4550"><tspan class="k">console</tspan>.log(reg.exec(str)); <tspan class="cg">//=>["2019"...]</tspan></text>
<text class="c" x="2422" y="4574"><tspan class="k">console</tspan>.log(reg.lastIndex); <tspan class="cg">//=>11 设置全局匹配修饰符g后，第一次匹配完，</tspan></text>
<text class="c cg" x="2422" y="4599">lastIndex会自己修改</text>
<text class="c" x="2422" y="4624"><tspan class="k">console</tspan>.log(reg.exec(str)); <tspan class="cg">//=>["2020"...]</tspan></text>
<text class="c" x="2422" y="4649"><tspan class="k">console</tspan>.log(reg.lastIndex); <tspan class="cg">//=>22</tspan></text>
<text class="c" x="2422" y="4673"><tspan class="k">console</tspan>.log(reg.exec(str)); <tspan class="cg">//=>["2021"...]</tspan></text>
<text class="c" x="2422" y="4697"><tspan class="k">console</tspan>.log(reg.lastIndex); <tspan class="cg">//=>32</tspan></text>
<text class="c" x="2422" y="4722"><tspan class="k">console</tspan>.log(reg.exec(str)); <tspan class="cg">//=>null 当全部捕获后，再次捕获的结果是null，但是</tspan></text>
<text class="c cg" x="2422" y="4746">lastIndex又回归了初始值零，再次捕获又从第一个开始了...</text>
<text class="c" x="2422" y="4771"><tspan class="k">console</tspan>.log(reg.lastIndex); <tspan class="cg">//=>0</tspan></text>
<text class="c" x="2422" y="4796"><tspan class="k">console</tspan>.log(reg.exec(str)); <tspan class="cg">//=>["2019"...]</tspan></text>
</g>

<g id="code-match-note" font-size="19">
<rect x="1987" y="4845" width="864" height="80" fill="#fff"/>
<text class="c cm" x="1999" y="4864">//=>字符串中的MATCH方法，可以在执行一次的情况下，捕获到所有匹配的数据（前提：正则也</text>
<text class="c cm" x="1999" y="4890">得设置G才可以）</text>
<text class="c" x="1999" y="4917">console.log(<tspan class="s">"珠峰2019@2020培训"</tspan>.match(reg));</text>
</g>

<g id="code-execall" font-size="16.5">
<rect x="2187" y="4937" width="767" height="548" fill="#fff"/>
<text class="c" x="2199" y="4951"><tspan class="f">~</tspan> <tspan class="k">function</tspan> () {</text>
<text class="c" x="2238" y="4974"><tspan class="k">function</tspan> execAll(str = <tspan class="s">""</tspan>) {</text>
<text class="c cg" x="2278" y="4997">//=>str:要匹配的字符串</text>
<text class="c cg" x="2278" y="5020">//=>this:RegExp的实例（当前操作的正则）</text>
<text class="c cg" x="2278" y="5044">//=>进来后的第一件事，是验证当前正则是否设置了G，不设置则不能在进行循环捕获</text>
<text class="c cg" x="2278" y="5067">了，否则会导致死循环</text>
<text class="c" x="2278" y="5092"><tspan class="kp">if</tspan> (!<tspan class="k">this</tspan>.global) <tspan class="kp">return</tspan> <tspan class="k">this</tspan>.exec(str);</text>
<text class="c cg" x="2278" y="5115">//=>ARY存储最后所有捕获的信息  RES存储每一次捕获的内容（数组）</text>
<text class="c" x="2278" y="5139"><tspan class="k">let</tspan> ary = [],</text>
<text class="c" x="2317" y="5162">res = <tspan class="k">this</tspan>.exec(str);</text>
<text class="c" x="2278" y="5186"><tspan class="kp">while</tspan> (res) {</text>
<text class="c cg" x="2312" y="5212">//=>把每一次捕获的内容RES[0]存放到数组中</text>
<text class="c" x="2312" y="5236">ary.push(res[0]);</text>
<text class="c cg" x="2312" y="5259">//=>只要捕获的内容不为NULL，则继续捕获下去</text>
<text class="c" x="2312" y="5283">res = <tspan class="k">this</tspan>.exec(str);</text>
<text class="c" x="2273" y="5306">}</text>
<text class="c" x="2273" y="5330"><tspan class="kp">return</tspan> ary;</text>
<text class="c" x="2235" y="5354">}</text>
<text class="c" x="2233" y="5378"><tspan class="cg">RegExp</tspan>.prototype.execAll = execAll;</text>
<text class="c" x="2194" y="5402">}();</text>
<text class="c" x="2194" y="5448"><tspan class="k">let</tspan> reg = <tspan class="s">/\d+/</tspan>;</text>
<text class="c" x="2194" y="5472"><tspan class="cg">console</tspan>.log(reg.execAll(<tspan class="s">"珠峰2019@2020培训"</tspan>));</text>
</g>

<g id="code-greedy" font-size="18">
<rect x="2163" y="5495" width="633" height="321" fill="#fbf7f4"/>
<text class="c" x="2168" y="5520"><tspan class="kp">let</tspan> <tspan class="k">str</tspan> = <tspan class="s">"珠峰2019@2020培训"</tspan>;</text>
<text class="c cm" x="2168" y="5549">//=>正则捕获的贪婪性：默认情况下，正则捕获的时候，是按照当前正则所匹</text>
<text class="c cm" x="2168" y="5577">配的最长结果来获取的</text>
<text class="c" x="2168" y="5607"><tspan class="kp">let</tspan> <tspan class="k">reg</tspan> = <tspan class="so">/\d+/g</tspan>;</text>
<text class="c" x="2168" y="5635">console.log(str.match(reg)); <tspan class="so">//=>["2019","2020"]</tspan></text>
<text class="c cm" x="2168" y="5691">//=>在量词元字符后面设置？：取消捕获时候的贪婪性（按照正则匹配的最短</text>
<text class="c cm" x="2168" y="5719">结果来获取）</text>
<text class="c" x="2168" y="5749">reg = <tspan class="so">/\d+?/g</tspan>;</text>
<text class="c" x="2168" y="5778">console.log(str.match(reg)); <tspan class="so">//=>["2", "0", "1", "9",</tspan></text>
<text class="c so" x="2168" y="5806">"2", "0", "2", "0"]</text>
<ellipse cx="2316" cy="5601" rx="46" ry="17" fill="none" stroke="#111" stroke-width="3"/>
<ellipse cx="2276" cy="5743" rx="50" ry="18" fill="none" stroke="#111" stroke-width="3"/>
</g>

<g id="code-replace" font-size="20">
<rect x="1935" y="5829" width="492" height="365" fill="#fff"/>
<text class="c" x="1950" y="5856"><tspan class="kp">let</tspan> <tspan class="k">str</tspan> = <tspan class="s">"zhufeng@2019|zhufeng@2020"</tspan>;</text>
<text class="c cm" x="1950" y="5888">//=>把"zhufeng"替换成"珠峰"</text>
<text class="c cm" x="1950" y="5921">//1.不用正则，执行一次只能替换一个</text>
<text class="c so" x="1950" y="5953">/*</text>
<text class="c so" x="1950" y="5987">str = str.replace("zhufeng","珠</text>
<text class="c so" x="1950" y="6019">峰").replace("zhufeng","珠峰");</text>
<text class="c so" x="1950" y="6052">console.log(str);</text>
<text class="c so" x="1950" y="6084">*/</text>
<text class="c cm" x="1950" y="6117">//2.使用正则会简单一点</text>
<text class="c" x="1950" y="6149">str = str.replace(<tspan class="so">/zhufeng/g</tspan>,<tspan class="s">"珠峰"</tspan>);</text>
<text class="c" x="1950" y="6182">console.log(str);</text>
</g>

<g id="liangbufen">
<ellipse cx="1591" cy="7413" rx="50" ry="29" fill="#1e1e1e" stroke="#f0cd00" stroke-width="3"/>
<text class="e" x="1591" y="7421">两部分</text>
<circle class="by" cx="1649" cy="7413" r="5.5"/>
</g>
<g id="yellow-labels">
<text class="l" x="1675" y="7012">元字符</text><circle class="by" cx="1746" cy="7006" r="5"/>
<text class="l" x="1675" y="7796">修饰符（/a/img-写在//外面）</text><circle class="by" cx="1924" cy="7790" r="5"/>
<text class="l" x="1774" y="6364">量词元字符</text><circle class="by" cx="1879" cy="6358" r="5"/>
<text class="l" x="1774" y="7059">特殊元字符</text><circle class="by" cx="1879" cy="7053" r="5"/>
<text class="l" x="1774" y="7660">普通元字符（代表本身含义）</text><circle class="by" cx="2015" cy="7654" r="5"/>
<text class="l" x="2042" y="7642">/baiyun/</text>
<text class="l" x="2042" y="7679">/a/</text>

<text class="l" x="1909" y="6253">*</text><circle class="by" cx="1934" cy="6247" r="5"/><text class="l" x="1960" y="6253">0-多次</text>
<text class="l" x="1909" y="6291">+</text><circle class="by" cx="1939" cy="6285" r="5"/><text class="l" x="1966" y="6291">1-多次</text>
<text class="l" x="1909" y="6328">?</text><circle class="by" cx="1935" cy="6322" r="5"/><text class="l" x="1961" y="6328">0次或1次</text>
<text class="l" x="1907" y="6365">{n}</text><circle class="by" cx="1948" cy="6359" r="5"/><text class="l" x="1975" y="6365">出现n次</text>
<text class="l" x="1907" y="6402">{n,}</text><circle class="by" cx="1952" cy="6396" r="5"/><text class="l" x="1979" y="6402">出现n到多次</text>
<text class="l" x="1907" y="6439">{n,m}</text><circle class="by" cx="1968" cy="6433" r="5"/><text class="l" x="1995" y="6439">出现n到m次</text>
<text class="l" x="1907" y="6475">\1</text><circle class="by" cx="1943" cy="6469" r="5"/><text class="l" x="1970" y="6475">([a-z])\1,出现前面分组的一样内容1到多次</text>

<text class="l" x="1909" y="6512">\</text><circle class="by" cx="1934" cy="6506" r="5"/><text class="l" x="1960" y="6512">转义字符(普通—>特殊)</text>
<text class="l" x="1909" y="6549">.</text><circle class="by" cx="1930" cy="6543" r="5"/><text class="l" x="1958" y="6549">除\n（换行符）以外的任意字符</text>
<text class="l" x="1909" y="6586">^</text><circle class="by" cx="1938" cy="6580" r="5"/><text class="l" x="1966" y="6586">以哪个元字符作为开始</text><circle class="by" cx="2156" cy="6580" r="5"/><text class="l" x="2182" y="6586">/^\d/</text>
<text class="l" x="1907" y="6624">$</text><circle class="by" cx="1935" cy="6618" r="5"/><text class="l" x="1962" y="6624">以哪个元字符作为结束</text><circle class="by" cx="2153" cy="6618" r="5"/><text class="l" x="2179" y="6624">/\d$/</text>
<text class="l" x="1907" y="6660">\n</text><circle class="by" cx="1944" cy="6654" r="5"/><text class="l" x="1970" y="6660">换行符</text>
<text class="l" x="1907" y="6697">\d</text><circle class="by" cx="1944" cy="6691" r="5"/><text class="l" x="1970" y="6697">代表0-9数字</text>
<text class="l" x="1907" y="6735">\D</text><circle class="by" cx="1946" cy="6729" r="5"/><text class="l" x="1973" y="6735">非0-9之间的数字</text>
<text class="l" x="1907" y="6771">\w</text><circle class="by" cx="1947" cy="6765" r="5"/><text class="l" x="1974" y="6771">数字、字母、下划线中的任意一个字符</text>
<text class="l" x="1907" y="6808">\s</text><circle class="by" cx="1941" cy="6802" r="5"/><text class="l" x="1967" y="6808">一个空白字符（包含空格、制表符、换页）</text>
<text class="l" x="1907" y="6846">\t</text><circle class="by" cx="1940" cy="6840" r="5"/><text class="l" x="1967" y="6846">一个制表符（一个Tab:四个空格）</text>
<text class="l" x="1907" y="6883">x|y</text><circle class="by" cx="1949" cy="6877" r="5"/><text class="l" x="1976" y="6883">x或者y中一个字符（2|4）</text>
<text class="l" x="1907" y="6998">[xyz]</text><circle class="by" cx="1964" cy="6992" r="5"/><text class="l" x="1990" y="6998">x或者y或者z中一个字符（x|y|z）</text><circle class="by" cx="2248" cy="6992" r="5"/>
<text class="l" x="2276" y="6920">一般代表本身含义</text>
<text class="l" x="2276" y="7077">不存在多位数</text><circle class="by" cx="2398" cy="7071" r="5"/>
<text class="l" x="1907" y="7114">[^xy]</text><circle class="by" cx="1969" cy="7108" r="5"/><text class="l" x="1996" y="7114">除了x/y以外的任意字符</text>
<text class="l" x="1907" y="7151">[a-z]</text><circle class="by" cx="1961" cy="7145" r="5"/><text class="l" x="1989" y="7151">指定a-z这个范围中的任意字符（[0-9a-zA-Z]===\W)</text>
<text class="l" x="1907" y="7188">[^a-z]</text><circle class="by" cx="1975" cy="7182" r="5"/><text class="l" x="2001" y="7188">除了a-z这个范围中的任意字符</text>
<text class="l" x="1907" y="7225">()</text><circle class="by" cx="1938" cy="7219" r="5"/><text class="l" x="1965" y="7225">分组符号,改变优先级 分组捕获</text>
<text class="l" x="1915" y="7262">(? : )</text><circle class="by" cx="1994" cy="7256" r="5"/><text class="l" x="2021" y="7262">只匹配不捕获</text>
<text class="l" x="1915" y="7299">(? =)</text><circle class="by" cx="1990" cy="7293" r="5"/><text class="l" x="2017" y="7299">正向预查</text>
<text class="l" x="1915" y="7391">(? ! )</text><circle class="by" cx="1994" cy="7385" r="5"/><text class="l" x="2021" y="7391">反向预查</text><circle class="by" cx="2109" cy="7385" r="5"/>
<text class="l" x="1907" y="7429">/^[\u4E00-\u9Fa5]$/</text><circle class="by" cx="2094" cy="7423" r="5"/><text class="l" x="2120" y="7429">汉字</text>
<text class="l" x="1909" y="7604">?</text><circle class="by" cx="1935" cy="7598" r="5"/>

<text class="l" x="1951" y="7759">i (ignoreCase)</text><circle class="by" cx="2102" cy="7753" r="5"/><text class="l" x="2127" y="7759">忽略单词大小写匹配</text><circle class="by" cx="2301" cy="7753" r="5"/>
<text class="l" x="1951" y="7796">m(multiline)</text><circle class="by" cx="2071" cy="7790" r="5"/><text class="l" x="2099" y="7796">可以进行多行匹配</text>
<text class="l" x="1951" y="7834">g(global)</text><circle class="by" cx="2047" cy="7828" r="5"/><text class="l" x="2073" y="7834">全局匹配(字符串全部符合的都能捕获)</text>
</g>

<g id="code-bracket" font-size="17">
<rect x="2424" y="6938" width="430" height="146" fill="#fff"/>
<text class="c cm" x="2435" y="6963">//2.中括号中不存在多位数</text>
<text class="c" x="2435" y="6991">reg = <tspan class="so">/^[18]$/</tspan>;</text>
<text class="c" x="2435" y="7018">console.log(reg.test(<tspan class="s">"1"</tspan>)); <tspan class="so">//=>true</tspan></text>
<text class="c" x="2435" y="7045">console.log(reg.test(<tspan class="s">"8"</tspan>)); <tspan class="so">//=>true</tspan></text>
<text class="c" x="2435" y="7073">console.log(reg.test(<tspan class="s">"18"</tspan>)); <tspan class="so">//=>false</tspan></text>
</g>
<g id="note-group">
<rect x="2134" y="7318" width="1005" height="80" fill="#f8f8f8"/>
<text x="2140" y="7348" font-family="Noto Sans CJK SC, sans-serif" font-size="30" fill="#c8874a">//=>如果设置了分组（改变优先级），但是捕获的时候不需要单独捕获，可以</text>
<text x="2140" y="7390" font-family="Noto Sans CJK SC, sans-serif" font-size="30" fill="#c8874a">基于?:来处理</text>
</g>
<g id="note-question" font-family="Noto Sans CJK SC, sans-serif" font-size="17" fill="#555">
<rect x="1960" y="7448" width="497" height="163" fill="#fff"/>
<text x="1965" y="7471">•</text><text x="1981" y="7471">问号左边是非量词元字符：本身代表量词元字符，出现零到一次</text>
<text x="1965" y="7504">•</text><text x="1981" y="7504">问号左边是量词元字符：取消捕获时候的贪婪性</text>
<text x="1965" y="7539">•</text><text x="1981" y="7539">(?:) 只匹配不捕获</text>
<text x="1965" y="7573">•</text><text x="1981" y="7573">(?=) 正向预查</text>
<text x="1965" y="7607">•</text><text x="1981" y="7607">(?!) 负向预查</text>
</g>
<g id="code-ignorecase" font-size="22">
<rect x="2329" y="7698" width="370" height="67" fill="#fff"/>
<text class="c" x="2333" y="7722"><tspan class="so">/A/</tspan>.test(<tspan class="so">'lalala'</tspan>)  <tspan class="so">=>false</tspan></text>
<text class="c" x="2333" y="7756"><tspan class="so">/A/i</tspan>.test(<tspan class="so">'lalala'</tspan>) <tspan class="so">=>true</tspan></text>
</g>

</g>
</svg>
